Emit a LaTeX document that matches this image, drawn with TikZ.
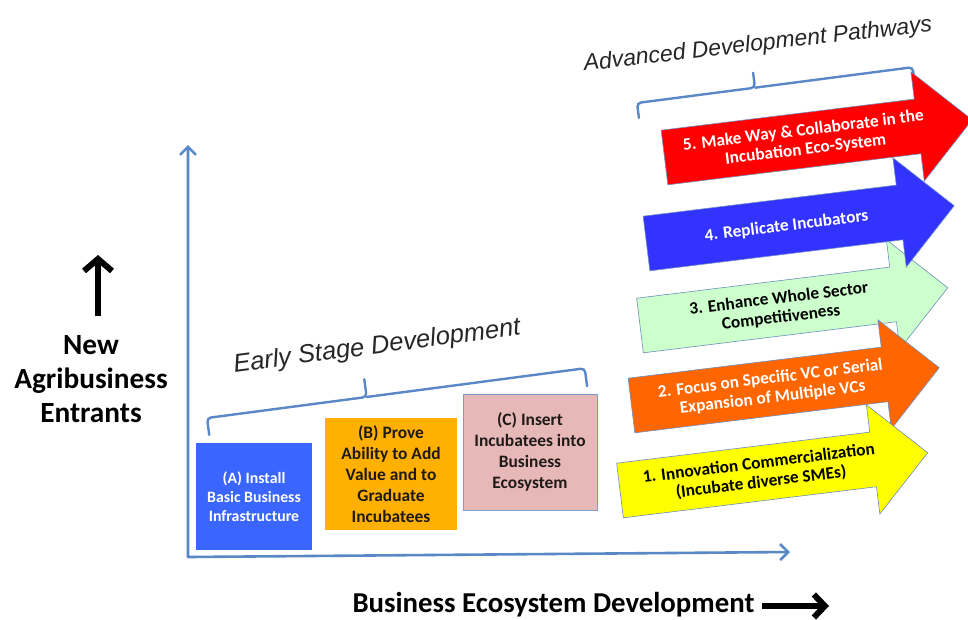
\documentclass[tikz,border=0pt]{standalone}
\usepackage{fontspec}
\setmainfont{Carlito}
\newfontfamily\italfont{Liberation Sans}
\usetikzlibrary{arrows.meta}
\definecolor{axisblue}{HTML}{5A88C6}
\definecolor{boxA}{HTML}{3A66FF}
\definecolor{boxB}{HTML}{FFB000}
\definecolor{boxC}{HTML}{E6B9B8}
\definecolor{boxCedge}{HTML}{7F9CC8}
\definecolor{boxtext}{HTML}{1F1A17}
\definecolor{arrowedge}{HTML}{6C8EBF}
\definecolor{arrRed}{HTML}{FF0000}
\definecolor{arrBlue}{HTML}{3333FF}
\definecolor{arrGreen}{HTML}{CCFFCC}
\definecolor{arrOrange}{HTML}{FF6600}
\definecolor{arrYellow}{HTML}{FFFF00}
\tikzset{
  axisline/.style={draw=axisblue, line width=2.6pt, line join=round},
  bracel/.style={draw=axisblue, line width=2.4pt, rounded corners=4pt, line cap=round},
  stagebox/.style={inner sep=2pt, align=center, font=\bfseries\fontsize{17.4}{21}\selectfont, text=boxtext},
  arrowline/.style={draw=arrowedge, line width=0.6pt, line join=miter},
  arrowtext/.style={align=center, font=\bfseries\fontsize{17.3}{19}\selectfont, inner sep=0pt},
  italiclabel/.style={font=\italfont\itshape\fontsize{23}{28}\selectfont, text=black!85, inner sep=0pt},
  bigbold/.style={font=\bfseries\fontsize{29.3}{34}\selectfont, align=center, inner sep=0pt},
  blackarrow/.style={line width=6pt, -{Straight Barb[length=12pt,width=28pt]}},
}
\newcommand{\devarrow}[5]{%
  \begin{scope}[shift={(#2)}, rotate=7]
    \draw[arrowline, fill=#3] (0,-27.5) -- (255,-27.5) -- (255,-55) -- (310,0) -- (255,55) -- (255,27.5) -- (0,27.5) -- cycle;
    \node[arrowtext, text=#4, transform shape] (#1) at (141,0) {#5};
  \end{scope}}
\begin{document}
\begin{tikzpicture}[x=1pt,y=-1pt]
\useasboundingbox (0,0) rectangle (968,619);
\clip (0,0) rectangle (968,619);
\fill[white] (0,0) rectangle (968,619);

% axes
\coordinate (ytop) at (188,145);
\coordinate (orig) at (188,557);
\coordinate (xend) at (790,552);
\draw[axisline, {Straight Barb[length=8pt,width=16pt]}-{Straight Barb[length=8pt,width=16pt]}] (ytop) -- (orig) -- (xend);

% y label
\node[bigbold] (ylab) at (91,379) {New\\Agribusiness\\Entrants};
\coordinate (ua1) at (98,316);
\coordinate (ua2) at (98,255);
\draw[blackarrow] (ua1) -- (ua2);

% x label
\node[bigbold, font=\bfseries\fontsize{28.8}{34}\selectfont, anchor=base] (xlab) at (553.5,612.5) {Business Ecosystem Development};
\coordinate (ra1) at (762,606);
\coordinate (ra2) at (829,606);
\draw[blackarrow, -{Straight Barb[length=11pt,width=23pt]}] (ra1) -- (ra2);

% early stage boxes
\node[stagebox, fill=boxA, text=white, minimum width=116pt, minimum height=107pt, font=\bfseries\fontsize{15.8}{19}\selectfont] (boxa) at (254,496.5) {(A) Install\\Basic Business\\Infrastructure};
\node[stagebox, fill=boxB, minimum width=132pt, minimum height=112pt] (boxb) at (391,474) {(B) Prove\\Ability to Add\\Value and to\\Graduate\\Incubatees};
\node[stagebox, fill=boxC, draw=boxCedge, line width=0.8pt, minimum width=134pt, minimum height=116pt] (boxc) at (530,452) {(C) Insert\\Incubatees into\\Business\\Ecosystem};

% early stage brace
\begin{scope}[shift={(207,418)}, rotate=7.5]
  \draw[bracel] (0,17) -- (0,0) -- (161,0) -- (161,-18);
  \draw[bracel] (161,0) -- (381,0) -- (381,18);
\end{scope}
\node[italiclabel, rotate=7.5, font=\italfont\itshape\fontsize{25.5}{30}\selectfont] (early) at (377,347) {Early Stage Development};

% advanced brace
\begin{scope}[shift={(637,103)}, rotate=7.4]
  \draw[bracel] (0,15) -- (0,0) -- (119,0) -- (119,-15);
  \draw[bracel] (119,0) -- (278,0) -- (278,15);
\end{scope}
\node[italiclabel, rotate=6.5] (adv) at (758,45) {Advanced Development Pathways};

% pathway arrows
\devarrow{p3}{640,325.5}{arrGreen}{black}{3. Enhance Whole Sector\\Competitiveness}
\devarrow{p4}{646.5,243.5}{arrBlue}{white}{4. Replicate Incubators}
\devarrow{p2}{631.5,405.5}{arrOrange}{white}{2. Focus on Specific VC or Serial\\Expansion of Multiple VCs}
\devarrow{p1}{620,490.5}{arrYellow}{black}{1. Innovation Commercialization\\(Incubate diverse SMEs)}
\devarrow{p5}{664.5,157.5}{arrRed}{white}{5. Make Way \& Collaborate in the\\Incubation Eco-System}
\end{tikzpicture}
\end{document}
